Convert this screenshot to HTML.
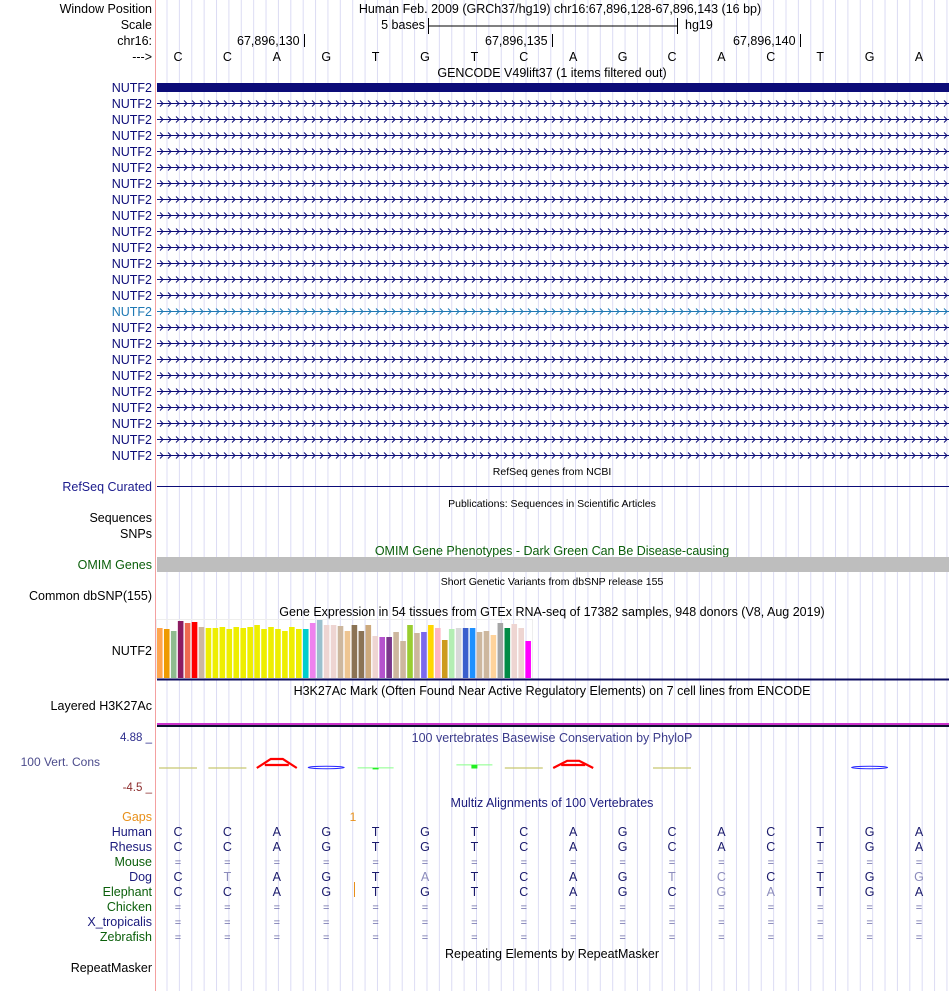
<!DOCTYPE html>
<html><head><meta charset="utf-8"><style>
body{margin:0;background:#fff;}
svg{display:block;font-family:"Liberation Sans",sans-serif;}
</style></head><body>
<svg id="c" width="950" height="991" viewBox="0 0 950 991" xmlns="http://www.w3.org/2000/svg">
<g id="grid"></g>
<line x1="155.5" y1="0" x2="155.5" y2="991" stroke="#f4a0a0" stroke-width="1"/>
<g id="labels" font-size="12.5" text-anchor="end"></g>
<g id="tracks"></g>
</svg>
<script>
const NS='http://www.w3.org/2000/svg';
const svg=document.getElementById('c');
function mk(tag,attrs,parent,txt){const e=document.createElementNS(NS,tag);for(const k in attrs)e.setAttribute(k,attrs[k]);if(txt!==undefined)e.textContent=txt;(parent||svg).appendChild(e);return e;}
const bases=['C','C','A','G','T','G','T','C','A','G','C','A','C','T','G','A'];
const baseX=i=>178+i*49.4;
const grid=document.getElementById('grid');
for(let k=0;k<64;k++){const x=167+k*12.38;if(x>949)break;
const l=mk('line',{x1:x,y1:0,x2:x,y2:991,stroke:'#dcdcf4','stroke-width':1},grid);

}
const L=document.getElementById('labels');const T=document.getElementById('tracks');
function lab(y,t,col,name){const e=mk('text',{x:152,y:y,fill:col||'#000'},L,t);

return e;}
function ctr(x,y,t,col,fs,name){const e=mk('text',{x:x,y:y,fill:col||'#000','font-size':fs||12,'text-anchor':'middle'},T,t);

return e;}
lab(13,'Window Position','#000','window-position-label');
lab(29,'Scale','#000','scale-label');
lab(45,'chr16:','#000','chromosome-label');
lab(61,'--->','#000','strand-label');
ctr(560,13,'Human Feb. 2009 (GRCh37/hg19)   chr16:67,896,128-67,896,143 (16 bp)','#000',12.5,'window-position-text');
ctr(403,29,'5 bases','#000',12.5,'scale-text');
mk('path',{d:'M428.5,18 V34 M428.5,26 H677.5 M677.5,18 V34',stroke:'#000',fill:'none'},T);
mk('text',{x:685,y:29,'font-size':12.5},T,'hg19');
[[237,'67,896,130',304],[485,'67,896,135',552],[733,'67,896,140',800]].forEach(p=>{
mk('text',{x:p[0],y:45,'font-size':12.5},T,p[1]);mk('line',{x1:p[2]+.5,y1:34,x2:p[2]+.5,y2:47,stroke:'#000'},T);});
bases.forEach((b,i)=>{const e=mk('text',{x:baseX(i),y:61,'font-size':12.5,'text-anchor':'middle'},T,b);

});
ctr(552,77,'GENCODE V49lift37 (1 items filtered out)','#000',12.5);
for(let r=0;r<24;r++){const y=87+r*16;const col=r===14?'#1e78b4':'#0c0c78';
lab(y+5,'NUTF2',col,'gene-label');
if(r===0){const b=mk('rect',{x:157,y:y-4,width:792,height:9,fill:'#0c0c78'},T);
}
else{const g=mk('g',{},T);

const yl=y+0.5;
mk('line',{x1:157,y1:yl,x2:949,y2:yl,stroke:col},g);
let d='';for(let x=160;x<946;x+=8){d+=`M${x},${yl-3}L${x+3},${yl}L${x},${yl+3}`;}
mk('path',{d:d,stroke:col,fill:'none','stroke-width':1},g);}}
ctr(552,475,'RefSeq genes from NCBI','#000',10.5);
lab(491,'RefSeq Curated','#1a1a8c','refseq-label');
mk('line',{x1:157,y1:486.5,x2:949,y2:486.5,stroke:'#0c0c78'},T);
ctr(552,507,'Publications: Sequences in Scientific Articles','#000',10.5);
lab(522,'Sequences');lab(538,'SNPs');
ctr(552,555,'OMIM Gene Phenotypes - Dark Green Can Be Disease-causing','#0b5f0b',12.5);
lab(569,'OMIM Genes','#0b5f0b','omim-label');
mk('rect',{x:157,y:557,width:792,height:15,fill:'#bebebe'},T);
ctr(552,585,'Short Genetic Variants from dbSNP release 155','#000',10.5);
lab(600,'Common dbSNP(155)');
ctr(552,616,'Gene Expression in 54 tissues from GTEx RNA-seq of 17382 samples, 948 donors (V8, Aug 2019)','#000',12.5);
lab(655,'NUTF2');
const gtexValues=[50,49,47,57,55,56,51,50,50,51,49,51,50,51,53,49,51,49,47,51,49,49,55,58,53,53,52,47,53,47,53,42,41,41,46,37,53,45,46,53,50,38,49,50,50,50,46,47,43,55,50,54,50,37];
const gtexColors=['#FFA54F','#EE9A00','#8FBC8F','#8B1C62','#EE6A50','#FF0000','#CDB79E','#EEEE00','#EEEE00','#EEEE00','#EEEE00','#EEEE00','#EEEE00','#EEEE00','#EEEE00','#EEEE00','#EEEE00','#EEEE00','#EEEE00','#EEEE00','#EEEE00','#00CDCD','#EE82EE','#9AC0CD','#EED5D2','#EED5D2','#CDB79E','#EEC591','#8B7355','#8B7355','#CDAA7D','#EED5D2','#B452CD','#7A378B','#CDB79E','#CDB79E','#9ACD32','#CDB79E','#7B68EE','#FFD700','#FFB6C1','#CD9B1D','#B4EEB4','#D9D9D9','#3A5FCD','#1E90FF','#CDB79E','#CDB79E','#FFD39B','#A6A6A6','#008B45','#EED5D2','#EED5D2','#FF00FF'];
const gBase=678,gScale=1.0,gx=i=>157+i*6.95;
mk('rect',{x:156.5,y:619.5,width:376,height:59,fill:'none',stroke:'#eeeeee'},T);
gtexValues.forEach((v,i)=>{const h=v*gScale;const r=mk('rect',{x:gx(i),y:gBase-h,width:5.6,height:h,fill:gtexColors[i]},T);
});
mk('rect',{x:157,y:678.5,width:792,height:2,fill:'#0c0c60'},T);
ctr(552,695,'H3K27Ac Mark (Often Found Near Active Regulatory Elements) on 7 cell lines from ENCODE','#000',12.5);
lab(710,'Layered H3K27Ac');
mk('rect',{x:157,y:723,width:792,height:2,fill:'#cc33cc'},T);
mk('rect',{x:157,y:725,width:792,height:2,fill:'#101030'},T);
mk('text',{x:152,y:741,fill:'#2c2c8c','font-size':11.5,'text-anchor':'end'},L,'4.88 _');
mk('text',{x:152,y:791,fill:'#8c2c2c','font-size':11.5,'text-anchor':'end'},L,'-4.5 _');
mk('text',{x:100,y:766,fill:'#4c4c8c','font-size':12,'text-anchor':'end'},L,'100 Vert. Cons');
ctr(552,742,'100 vertebrates Basewise Conservation by PhyloP','#3c3c8c',12.5);
const consScore=[0.1,0.1,1.5,0.3,0.1,0,0.6,0.1,1.2,0,0.1,0,0,0,0.3,0];
bases.forEach((b,i)=>{const x=baseX(i),s=consScore[i];if(s<=0)return;const g=mk('g',{},T);

if(b==='A'){mk('path',{d:`M${x-20},768 L${x-6},${768-s*6} L${x+6},${768-s*6} L${x+20},768 M${x-12},765 H${x+12}`,stroke:'#ff0000','stroke-width':2.2,fill:'none'},g);}
else if(b==='C'){mk('line',{x1:x-19,y1:768,x2:x+19,y2:768,stroke:'#c8c870','stroke-width':1.2},g);}
else if(b==='G'){mk('ellipse',{cx:x,cy:767.5,rx:18,ry:1.2,stroke:'#2a2aff',fill:'none','stroke-width':1},g);}
else if(b==='T'){const h=s*6;mk('line',{x1:x-18,y1:768.5-h,x2:x+18,y2:768.5-h,stroke:'#88ff88'},g);mk('rect',{x:x-3,y:768.5-h,width:6,height:Math.max(h,1.5),fill:'#22ee22'},g);}
});
ctr(552,807,'Multiz Alignments of 100 Vertebrates','#1a1a7c',12.5);
lab(821,'Gaps','#e8901a','gaps-label');
mk('text',{x:353,y:821,fill:'#e8901a','font-size':12,'text-anchor':'middle'},T,'1');
const species=['Human','Rhesus','Mouse','Dog','Elephant','Chicken','X_tropicalis','Zebrafish'];
const spColor=['#1a1a7c','#1a1a7c','#0b5f0b','#1a1a7c','#0b5f0b','#0b5f0b','#1a1a7c','#0b5f0b'];
const aln=['CCAGTGTCAGCACTGA','CCAGTGTCAGCACTGA','================','CTAGTATCAGTCCTGG','CCAGTGTCAGCGATGA','================','================','================'];
species.forEach((sp,r)=>{const y=836+r*15;lab(y,sp,spColor[r],'species-label');
for(let i=0;i<16;i++){const ch=aln[r][i];const diff=ch!=='='&&ch!==bases[i];
const e=mk('text',{x:baseX(i),y:y,'font-size':ch==='='?11:12.5,fill:ch==='='?'#6c6caa':(diff?'#8c8cbc':'#1a1a6c'),'text-anchor':'middle'},T,ch);
}});
mk('line',{x1:354.5,y1:882,x2:354.5,y2:897,stroke:'#e8901a'},T);
ctr(552,958,'Repeating Elements by RepeatMasker','#000',12.5);
lab(972,'RepeatMasker');
</script>
</body></html>
